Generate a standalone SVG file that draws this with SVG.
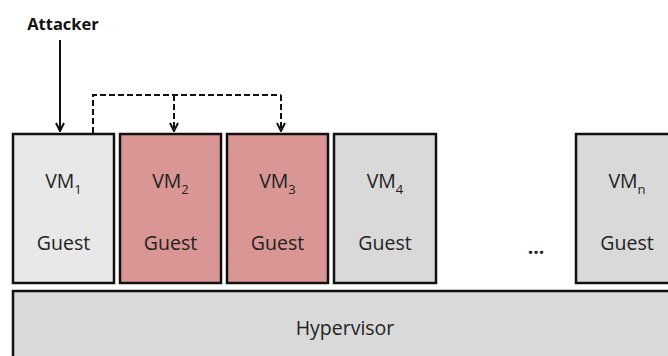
<svg xmlns="http://www.w3.org/2000/svg" width="668" height="356" viewBox="0 0 668 356">
<style>
.box{stroke:#111;stroke-width:2.5}
.light{fill:#e8e8e8}
.gray{fill:#d9d9d9}
.pink{fill:#d99694}
.t{font-family:"Open Sans","Liberation Sans",sans-serif;font-size:19.5px;fill:#222;text-anchor:middle}
.sub{font-size:13px}
.conn{fill:none;stroke:#111;stroke-width:2}
.dash{stroke-dasharray:6 3}
</style>
<defs>
<marker id="ah" viewBox="0 0 10 10" refX="9" refY="5" markerWidth="10" markerHeight="10" markerUnits="userSpaceOnUse" orient="auto">
<path d="M1,1 L9,5 L1,9" fill="none" stroke="#111" stroke-width="2"/>
</marker>
</defs>
<rect width="668" height="356" fill="#fff"/>
<g id="hypervisor">
<rect class="box gray" x="13" y="291" width="670" height="70"/>
<text class="t" x="345" y="335">Hypervisor</text>
</g>
<g id="vm1">
<rect class="box light" x="13" y="134" width="101" height="149"/>
<text class="t" x="63.5" y="188">VM<tspan class="sub" dy="6">1</tspan></text>
<text class="t" x="63.5" y="250">Guest</text>
</g>
<g id="vm2">
<rect class="box pink" x="120" y="134" width="101" height="149"/>
<text class="t" x="170.5" y="188">VM<tspan class="sub" dy="6">2</tspan></text>
<text class="t" x="170.5" y="250">Guest</text>
</g>
<g id="vm3">
<rect class="box pink" x="227" y="134" width="101" height="149"/>
<text class="t" x="277.5" y="188">VM<tspan class="sub" dy="6">3</tspan></text>
<text class="t" x="277.5" y="250">Guest</text>
</g>
<g id="vm4">
<rect class="box gray" x="334" y="134" width="102" height="149"/>
<text class="t" x="385" y="188">VM<tspan class="sub" dy="6">4</tspan></text>
<text class="t" x="385" y="250">Guest</text>
</g>
<g id="ellipsis">
<text class="t" x="536" y="254" font-weight="bold">...</text>
</g>
<g id="vmn">
<rect class="box gray" x="576" y="134" width="102" height="149"/>
<text class="t" x="627" y="188">VM<tspan class="sub" dy="6">n</tspan></text>
<text class="t" x="627" y="250">Guest</text>
</g>
<g id="attacker">
<text x="63" y="30" font-family="'Open Sans','Liberation Sans',sans-serif" font-size="16.5" font-weight="bold" fill="#111" text-anchor="middle">Attacker</text>
</g>
<g id="connectors">
<path class="conn" d="M60,40 V131" marker-end="url(#ah)"/>
<path class="conn dash" d="M93,133 V95 H281"/>
<path class="conn dash" d="M174,95 V131" marker-end="url(#ah)"/>
<path class="conn dash" d="M281,95 V131" marker-end="url(#ah)"/>
</g>
</svg>
